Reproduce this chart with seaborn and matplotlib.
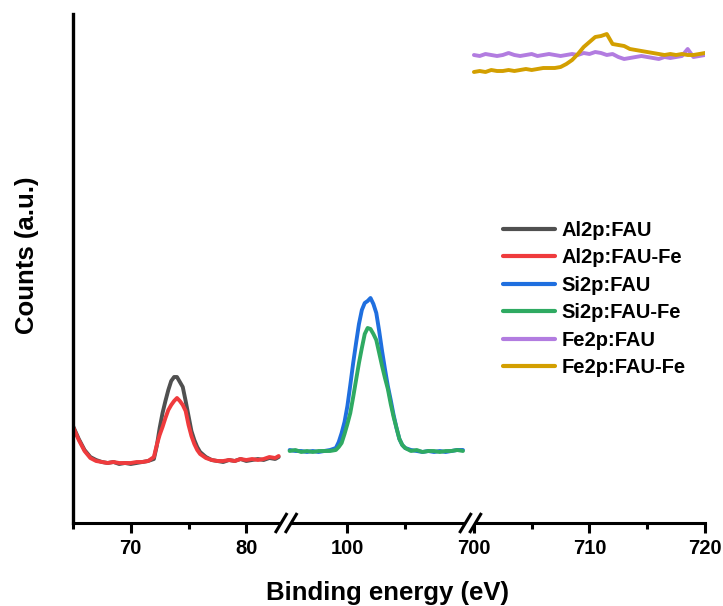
import matplotlib
matplotlib.use("Agg")
import matplotlib.pyplot as plt
import numpy as np
import pandas as pd
import seaborn as sns
from matplotlib.lines import Line2D
from matplotlib.patches import Polygon

# ---------------- data ----------------
al_x = [65.0, 65.5, 66.0, 66.5, 67.0, 67.5, 68.0, 68.5, 69.0, 69.5,
        70.0, 70.5, 71.0, 71.5, 72.0, 72.25, 72.5, 72.75, 73.0, 73.25,
        73.5, 73.75, 74.0, 74.25, 74.5, 74.75, 75.0, 75.25, 75.5, 75.75,
        76.0, 76.5, 77.0, 77.5, 78.0, 78.5, 79.0, 79.5, 80.0, 80.5,
        81.0, 81.5, 82.0, 82.5, 82.8]
al_fau = [97, 84, 73, 66, 63, 61, 60, 61, 59, 60,
          59, 60, 61, 62, 64, 77, 95, 110, 122, 133,
          142, 146, 146, 141, 136, 122, 107, 92, 83, 76,
          71, 66, 63, 62, 61, 63, 62, 64, 62, 63,
          64, 63, 65, 64, 66]
al_fau_fe = [96, 83, 72, 65, 62, 61, 60, 61, 60, 60,
             60, 61, 61, 62, 66, 78, 88, 96, 105, 113,
             118, 122, 125, 122, 118, 112, 98, 87, 79, 73,
             69, 65, 63, 62, 62, 63, 62, 64, 63, 64,
             63, 64, 66, 65, 67]

si_x = [95.0, 95.5, 96.0, 96.5, 97.0, 97.5, 98.0, 98.5,
        99.0, 99.25, 99.5, 99.75, 100.0, 100.25, 100.5, 100.75, 101.0, 101.25,
        101.5, 101.75, 102.0, 102.25, 102.5, 102.75, 103.0, 103.25, 103.5, 103.75,
        104.0, 104.25, 104.5, 104.75, 105.0,
        105.5, 106.0, 106.5, 107.0, 107.5, 108.0, 108.5, 109.0, 109.5, 110.0]
si_fau = [73, 72, 72, 71, 72, 71, 72, 73,
          75, 81, 90, 101, 117, 138, 160, 180, 199, 213,
          220, 222, 225, 219, 210, 192, 172, 154, 137, 123,
          108, 95, 84, 78, 75,
          73, 72, 71, 72, 71, 72, 71, 72, 73, 73]
si_fau_fe = [72, 73, 71, 72, 71, 72, 72, 72,
             73, 76, 80, 89, 99, 110, 126, 143, 160, 175,
             189, 195, 194, 189, 183, 170, 157, 145, 134, 119,
             106, 95, 84, 78, 75,
             72, 73, 71, 72, 72, 71, 72, 72, 73, 72]

fe_x = [700.0, 700.5, 701.0, 701.5, 702.0, 702.5, 703.0, 703.5, 704.0, 704.5,
        705.0, 705.5, 706.0, 706.5, 707.0, 707.5, 708.0, 708.5, 709.0, 709.5,
        710.0, 710.5, 711.0, 711.5, 712.0, 712.5, 713.0, 713.5, 714.0, 714.5,
        715.0, 715.5, 716.0, 716.5, 717.0, 717.5, 718.0, 718.5, 719.0, 719.5,
        720.0]
fe_fau = [468, 467, 469, 468, 467, 468, 470, 468, 467, 468,
          469, 467, 468, 469, 468, 467, 468, 469, 468, 470,
          469, 471, 470, 468, 469, 466, 464, 465, 466, 467,
          466, 465, 464, 466, 465, 466, 467, 474, 466, 467,
          468]
fe_fau_fe = [451, 452, 451, 453, 452, 452, 453, 452, 453, 454,
             453, 454, 455, 455, 455, 456, 459, 463, 469, 476,
             481, 486, 487, 489, 479, 478, 477, 474, 473, 472,
             471, 470, 469, 468, 469, 468, 469, 468, 468, 469,
             470]

series_names = ["Al2p:FAU", "Al2p:FAU-Fe", "Si2p:FAU", "Si2p:FAU-Fe",
                "Fe2p:FAU", "Fe2p:FAU-Fe"]
colors = ["#505050", "#EF3B3D", "#1F6FDF", "#2FAA62", "#B27CE0", "#D39F00"]

segment_ranges = [(65.0, 83.45), (94.7, 110.65), (699.7, 720.0)]
major_ticks = [[70, 80], [100], [700, 710, 720]]
minor_ticks = [[65, 75], [105], [705, 715]]

# ---------------- style ----------------
sns.set_theme(style="ticks")
plt.rcParams["font.family"] = ["Liberation Sans", "DejaVu Sans"]
plt.rcParams["font.weight"] = "bold"
plt.rcParams["text.color"] = "black"
plt.rcParams["axes.labelcolor"] = "black"
plt.rcParams["xtick.color"] = "black"
plt.rcParams["xtick.labelcolor"] = "black"

W, H = 723, 606
fig = plt.figure(figsize=(W / 100, H / 100), dpi=100)
left, right = 73 / W, 705 / W
bottom, top = 1 - 523 / H, 1 - 14 / H
widths = [r[1] - r[0] for r in segment_ranges]
gs = fig.add_gridspec(1, 3, width_ratios=widths, wspace=0,
                      left=left, right=right, bottom=bottom, top=top)
axes = [fig.add_subplot(gs[0, i]) for i in range(3)]

segments = [
    (al_x, [al_fau, al_fau_fe], series_names[0:2], colors[0:2]),
    (si_x, [si_fau, si_fau_fe], series_names[2:4], colors[2:4]),
    (fe_x, [fe_fau, fe_fau_fe], series_names[4:6], colors[4:6]),
]

for i, (ax, (xs, ys, names, cols)) in enumerate(zip(axes, segments)):
    frames = [pd.DataFrame({"energy": xs, "counts": y, "series": n})
              for y, n in zip(ys, names)]
    df = pd.concat(frames, ignore_index=True)
    sns.lineplot(data=df, x="energy", y="counts", hue="series",
                 hue_order=names, palette=cols, ax=ax, legend=False,
                 linewidth=2.8, sort=False, estimator=None)
    ax.set_xlim(*segment_ranges[i])
    ax.set_ylim(0, 509)
    ax.set_xlabel("")
    ax.set_ylabel("")
    ax.set_yticks([])
    ax.set_xticks(major_ticks[i])
    ax.set_xticks(minor_ticks[i], minor=True)
    ax.set_xticklabels([str(t) for t in major_ticks[i]])
    ax.tick_params(axis="x", which="major", direction="out", length=7,
                   width=2.2, labelsize=14.5, pad=4.5, color="black",
                   labelcolor="black")
    ax.tick_params(axis="x", which="minor", direction="out", length=4,
                   width=2.2, color="black")
    for lab in ax.get_xticklabels():
        lab.set_fontweight("bold")
    ax.spines["top"].set_visible(False)
    ax.spines["right"].set_visible(False)
    ax.spines["bottom"].set_linewidth(2.2)
    ax.spines["bottom"].set_color("black")
    if i == 0:
        ax.spines["left"].set_linewidth(2.4)
        ax.spines["left"].set_color("black")
    else:
        ax.spines["left"].set_visible(False)
    ax.set_facecolor("none")

# break marks on the x axis
axis_y = 523
for ax in axes[:2]:
    c = ax.get_position().x1 * W
    pts = lambda x, y: (x / W, 1 - y / H)
    gap = Polygon([pts(c - 5 - 6, axis_y + 10), pts(c - 5 + 6, axis_y - 10),
                   pts(c + 5 + 6, axis_y - 10), pts(c + 5 - 6, axis_y + 10)],
                  closed=True, facecolor="white", edgecolor="none",
                  transform=fig.transFigure, zorder=10)
    fig.add_artist(gap)
    for off in (-5, 5):
        x0, y0 = pts(c + off - 6, axis_y + 10)
        x1, y1 = pts(c + off + 6, axis_y - 10)
        fig.add_artist(Line2D([x0, x1], [y0, y1], color="black", lw=2.2,
                              transform=fig.transFigure, zorder=11,
                              solid_capstyle="butt"))

fig.text(388 / W, 1 - 600 / H, "Binding energy (eV)", ha="center",
         va="baseline", fontsize=18.5, fontweight="bold", color="black")
fig.text(27 / W, 1 - 255 / H, "Counts (a.u.)", ha="center", va="center",
         rotation=90, fontsize=18.5, fontweight="bold", color="black")

handles = [Line2D([0], [0], color=c, lw=3) for c in colors]
leg = fig.legend(handles, series_names, loc="upper left",
                 bbox_to_anchor=(503 / W, 1 - 221 / H), frameon=False,
                 borderpad=0, borderaxespad=0, handlelength=2.6,
                 handletextpad=0.3, labelspacing=0.42,
                 prop={"size": 14.5, "weight": "bold"})
for t in leg.get_texts():
    t.set_color("black")

fig.savefig("out.png", dpi=100)
